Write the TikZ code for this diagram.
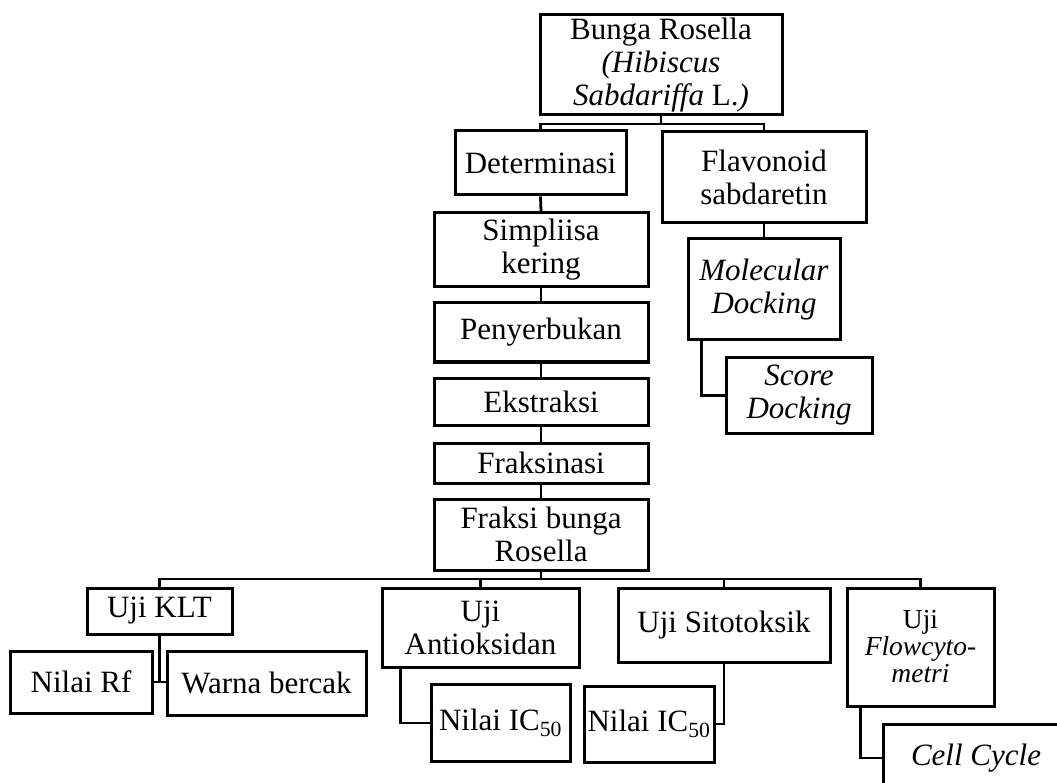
\documentclass[tikz,border=0pt]{standalone}
\usepackage{fontspec}
\setmainfont{Liberation Serif}
\begin{document}
\begin{tikzpicture}[x=1pt,y=-1pt,
  box/.style={draw, line width=3pt, inner sep=0pt, align=center,
    font=\fontsize{31}{33}\selectfont},
  small/.style={font=\fontsize{27.5}{27}\selectfont},
  conn/.style={line width=2.8pt}]
\useasboundingbox (0,0) rectangle (1057,783);
% top part
\node[box, minimum width=242pt, minimum height=100pt] (bunga) at (661,65)
  {Bunga Rosella\\\textit{(Hibiscus}\\\textit{Sabdariffa} L.\textit{)}};
\node[box, minimum width=171pt, minimum height=64pt] (det) at (540.5,163) {Determinasi};
\node[box, minimum width=204pt, minimum height=91pt] (flav) at (764,177) {Flavonoid\\sabdaretin};
\node[box, minimum width=214pt, minimum height=74pt] (simp) at (541,250) {Simpliisa\\kering};
\node[box, minimum width=214pt, minimum height=59pt] (peny) at (541,332.5) {Penyerbukan};
\node[box, minimum width=214pt, minimum height=47pt] (eks) at (541,401.5) {Ekstraksi};
\node[box, minimum width=214pt, minimum height=40pt] (frak) at (541,463) {Fraksinasi};
\node[box, minimum width=214pt, minimum height=71pt] (fbr) at (541,534.5) {Fraksi bunga\\Rosella};
\node[box, minimum width=152pt, minimum height=101pt] (mol) at (764,289.5) {\textit{Molecular}\\\textit{Docking}};
\node[box, minimum width=146pt, minimum height=75pt] (score) at (799,395.5) {\textit{Score}\\\textit{Docking}};
% bottom part
\node[box, minimum width=145pt, minimum height=46pt] (klt) at (159.5,611) {Uji KLT};
\node[box, minimum width=142pt, minimum height=62pt] (rf) at (81,682) {Nilai Rf};
\node[box, minimum width=199pt, minimum height=64pt] (warna) at (266.5,683) {Warna bercak};
\node[box, minimum width=197pt, minimum height=79pt] (anti) at (480.5,627.5) {Uji\\Antioksidan};
\node[box, minimum width=139pt, minimum height=77pt] (ic1) at (500.5,723) {Nilai IC\textsubscript{50}};
\node[box, minimum width=212pt, minimum height=74pt] (sito) at (724,625) {Uji Sitotoksik};
\node[box, minimum width=130pt, minimum height=76pt] (ic2) at (649,724) {Nilai IC\textsubscript{50}};
\node[box, small, minimum width=147pt, minimum height=118pt] (flow) at (920.5,647) {Uji\\\textit{Flowcyto-}\\\textit{metri}};
\node[box, minimum width=186pt, minimum height=68pt] (cell) at (976,758) {\textit{Cell Cycle}};
% connectors top
\coordinate (b1) at (661,124);
\draw[conn] (bunga.south) -- (b1);
\draw[conn] (det.north) -- (det.north |- b1) -- (flav.north |- b1) -- (flav.north);
\draw[conn] (det.south) -- (simp.north);
\draw[conn] (simp.south) -- (peny.north);
\draw[conn] (peny.south) -- (eks.north);
\draw[conn] (eks.south) -- (frak.north);
\draw[conn] (frak.south) -- (fbr.north);
\draw[conn] (flav.south) -- (mol.north);
\coordinate (m1) at ([xshift=15pt]mol.south west);
\draw[conn] (m1) |- (score.west);
% connectors bottom
\coordinate (bus) at (541,579);
\draw[conn] (fbr.south) -- (bus);
\draw[conn] (klt.north) -- (klt.north |- bus) -- (flow.north |- bus) -- (flow.north);
\draw[conn] (anti.north |- bus) -- (anti.north);
\draw[conn] (sito.north |- bus) -- (sito.north);
\coordinate (k1) at (klt.south |- rf.east);
\draw[conn] (klt.south) -- (k1);
\draw[conn] (rf.east) -- (rf.east -| warna.west);
\coordinate (a1) at ([xshift=20pt]anti.south west);
\draw[conn] (a1) |- (ic1.west);
\draw[conn] (sito.south) |- (ic2.east);
\coordinate (f1) at ([xshift=15pt]flow.south west);
\draw[conn] (f1) |- (cell.west);
\end{tikzpicture}
\end{document}
